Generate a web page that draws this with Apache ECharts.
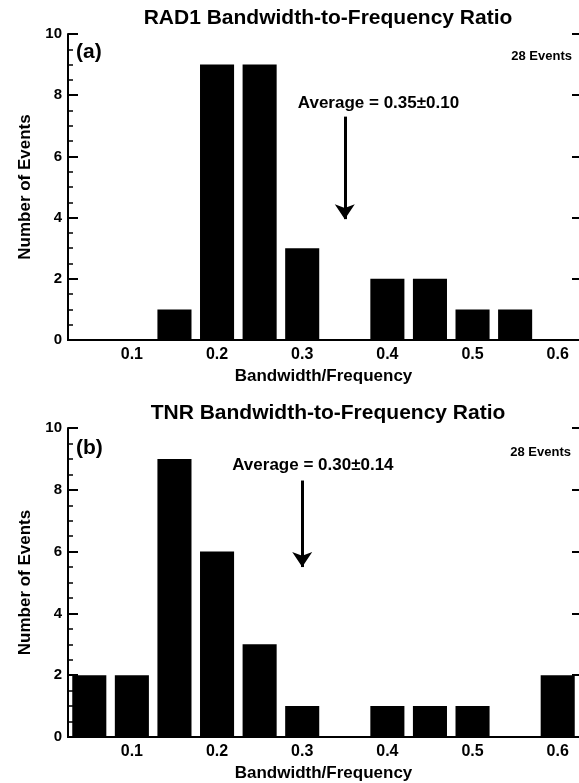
<!DOCTYPE html>
<html lang="en">
<head>
    <meta charset="UTF-8">
    <title>Bandwidth-to-Frequency Ratio</title>
    <style type="text/css">
        body{
            margin: 0px;
            padding: 0px;
            background: #ffffff;
        }
        #chart{
            width: 579px;
            height: 783px;
        }
    </style>
</head>
<body>
<div id="chart"></div>
<script src="https://cdn.jsdelivr.net/npm/echarts/dist/echarts.min.js" type="text/javascript"></script>
<script type="text/javascript">
    // histogram bins (centre of each 0.05 wide bin)
    var binCenters = ['0.05', '0.1', '0.15', '0.2', '0.25', '0.3', '0.35', '0.4', '0.45', '0.5', '0.55', '0.6'];
    var xTickLabels = ['0.1', '0.2', '0.3', '0.4', '0.5', '0.6'];
    var rad1Counts = [0, 0, 1, 9, 9, 3, 0, 2, 2, 1, 1, 0];
    var tnrCounts = [2, 2, 9, 6, 3, 1, 0, 1, 1, 1, 0, 2];
    // average arrow: bin, arrow top, arrow end, text height
    var rad1Average = ['0.35', 7.3, 3.95, 7.75];
    var tnrAverage = ['0.3', 8.3, 5.5, 8.8];
    var rad1AvgText = 'Average = 0.35\u00b10.10';
    var tnrAvgText = 'Average = 0.30\u00b10.14';

    var FONT = 'Liberation Sans, Arial, sans-serif';
    var black = '#000000';

    function txt(size) {
        return {color: black, fontSize: size, fontWeight: 'bold', fontFamily: FONT};
    }

    var xAxes = [], yAxes = [], series = [];

    function addPanel(i, counts, avg, avgText, textOffset) {
        xAxes.push({
            type: 'category', gridIndex: i, data: binCenters, boundaryGap: true,
            axisLine: {lineStyle: {color: black, width: 2}},
            axisTick: {inside: true, length: 6, alignWithLabel: true, interval: 0, lineStyle: {color: black, width: 2}},
            axisLabel: Object.assign(txt(16), {
                interval: 0, margin: 7,
                formatter: function (v) { return xTickLabels.indexOf(v) >= 0 ? v : ''; }
            }),
            name: 'Bandwidth/Frequency', nameLocation: 'middle', nameGap: 28,
            nameTextStyle: txt(17)
        });
        // top frame
        xAxes.push({
            type: 'category', gridIndex: i, position: 'top', data: binCenters,
            axisLine: {lineStyle: {color: black, width: 2}},
            axisTick: {show: false}, axisLabel: {show: false}
        });
        yAxes.push({
            type: 'value', gridIndex: i, min: 0, max: 10, interval: 2,
            axisLine: {show: true, lineStyle: {color: black, width: 2}},
            axisTick: {show: true, inside: true, length: 10, lineStyle: {color: black, width: 2}},
            minorTick: {show: true, splitNumber: 4, length: 5, lineStyle: {color: black, width: 1.5}},
            splitLine: {show: false},
            axisLabel: Object.assign(txt(15), {margin: 6}),
            name: 'Number of Events', nameLocation: 'middle', nameRotate: 90, nameGap: 34,
            nameTextStyle: txt(17)
        });
        // right frame is cut off by the page edge, only its ticks show
        yAxes.push({
            type: 'value', gridIndex: i, position: 'right', min: 0, max: 10, interval: 2,
            axisLine: {show: false},
            axisTick: {show: true, inside: true, length: 7, lineStyle: {color: black, width: 2}},
            splitLine: {show: false}, axisLabel: {show: false}
        });
        var idx = binCenters.indexOf(avg[0]);
        series.push({
            type: 'bar', xAxisIndex: 2 * i, yAxisIndex: 2 * i,
            data: counts, barWidth: '80%',
            itemStyle: {color: black},
            markLine: {
                silent: true, symbol: ['none', 'arrow'], symbolSize: 15,
                label: {show: false},
                lineStyle: {color: black, width: 3, type: 'solid'},
                data: [[{coord: [idx, avg[1]]}, {coord: [idx, avg[2]]}]]
            },
            markPoint: {
                silent: true, symbol: 'circle', symbolSize: 1,
                itemStyle: {color: 'rgba(0,0,0,0)'},
                label: Object.assign(txt(17), {
                    show: true, position: 'inside', align: 'left', offset: [textOffset, 0],
                    formatter: avgText
                }),
                data: [{coord: [idx, avg[3]]}]
            }
        });
    }

    addPanel(0, rad1Counts, rad1Average, rad1AvgText, -47);
    addPanel(1, tnrCounts, tnrAverage, tnrAvgText, -70);

    var myChart = echarts.init(document.getElementById('chart'));
    myChart.setOption({
        animation: false,
        backgroundColor: '#ffffff',
        grid: [
            {left: 68, right: -2, top: 34, height: 306},
            {left: 68, right: -2, top: 428, height: 309}
        ],
        xAxis: xAxes,
        yAxis: yAxes,
        series: series,
        graphic: [
            {type: 'text', x: 328, y: 18, style: Object.assign(txt(21), {text: 'RAD1 Bandwidth-to-Frequency Ratio', align: 'center', verticalAlign: 'middle', fill: black})},
            {type: 'text', x: 328, y: 413, style: Object.assign(txt(21), {text: 'TNR Bandwidth-to-Frequency Ratio', align: 'center', verticalAlign: 'middle', fill: black})},
            {type: 'text', x: 76, y: 52, style: Object.assign(txt(21), {text: '(a)', verticalAlign: 'middle', fill: black})},
            {type: 'text', x: 76, y: 448, style: Object.assign(txt(21), {text: '(b)', verticalAlign: 'middle', fill: black})},
            {type: 'text', x: 572, y: 56, style: Object.assign(txt(13), {text: '28 Events', align: 'right', verticalAlign: 'middle', fill: black})},
            {type: 'text', x: 571, y: 452, style: Object.assign(txt(13), {text: '28 Events', align: 'right', verticalAlign: 'middle', fill: black})}
        ]
    });
</script>
</body>
</html>
